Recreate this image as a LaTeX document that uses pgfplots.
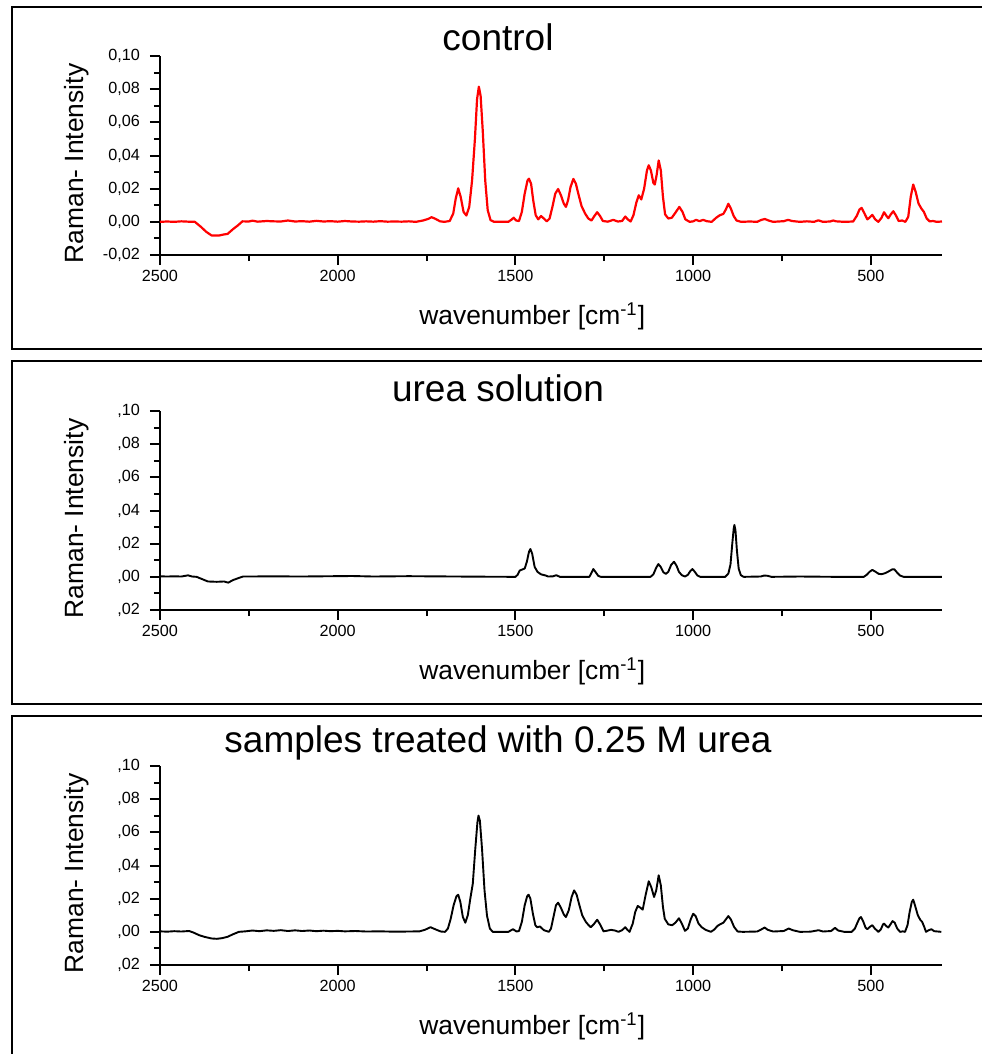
\documentclass[border=0pt]{standalone}
\usepackage{pgfplots}
\pgfplotsset{compat=1.18}
\usepackage{fontspec}
\setmainfont{Liberation Sans}

\pgfplotsset{
  raman/.style={
    scale only axis,
    width=391pt, height=99.5pt,
    anchor=south west,
    axis x line*=bottom, axis y line*=left,
    xmin=300, xmax=2500, x dir=reverse,
    ymin=-0.02, ymax=0.10,
    xtick={500,1000,1500,2000,2500},
    xticklabels={500,1000,1500,2000,2500},
    minor xtick={750,1250,1750,2250},
    ytick={-0.02,0,0.02,0.04,0.06,0.08,0.10},
    minor ytick={-0.01,0.01,0.03,0.05,0.07,0.09},
    tick align=outside,
    major tick length=5pt, minor tick length=3pt,
    axis line style={line width=1pt, black},
    every tick/.style={line width=1pt, black},
    tick label style={font=\fontsize{8.1}{9}\selectfont, black},
    yticklabel style={xshift=-1.5pt},
    xticklabel style={yshift=1pt},
    xlabel={wavenumber [cm\textsuperscript{-1}]},
    ylabel={Raman- Intensity},
    label style={font=\fontsize{13.2}{15}\selectfont},
    xlabel style={at={(axis description cs:0.476,-0.307)}, anchor=center},
    ylabel style={at={(axis description cs:-0.107,0.46)}, anchor=center, rotate=0},
    clip=false,
  }
}

\begin{document}
\begin{tikzpicture}[x=0.5pt,y=-0.5pt]
\useasboundingbox (0,0) rectangle (981,1054);
\draw[line width=1pt] (12,7) rectangle (1010,349);
\draw[line width=0.8pt] (12,361) rectangle (1010,704);
\draw[line width=0.8pt] (12,716) rectangle (1010,1080);

\node[font=\fontsize{18.5}{22}\selectfont, anchor=center] at (498,37) {control};
\node[font=\fontsize{18.5}{22}\selectfont, anchor=center] at (498,388) {urea solution};
\node[font=\fontsize{18.5}{22}\selectfont, anchor=center] at (498,743) {samples treated with 0.25 M urea};

% ---------- panel 1: control ----------
\begin{axis}[raman, at={(80pt,-127.5pt)}, height=99.5pt,
  yticklabels={{-0,02},{0,00},{0,02},{0,04},{0,06},{0,08},{0,10}}]
\addplot[red, line width=1.1pt, line join=round] coordinates {
(2500,0) (2480,0.0002) (2460,0) (2440,0.0003) (2420,0.0001) (2402,0)
(2385,-0.003) (2370,-0.006) (2355,-0.0082) (2335,-0.0083) (2320,-0.0076)
(2310,-0.0073) (2295,-0.0045) (2280,-0.002) (2268,0.0003) (2250,0.0002)
(2240,0.0007) (2225,0.0001) (2200,0.0005) (2180,0.0003) (2160,0.0002)
(2140,0.0008) (2120,0.0002) (2100,0.0004) (2080,0.0001) (2060,0.0006)
(2040,0.0002) (2020,0.0004) (2000,0.0001) (1980,0.0005) (1960,0.0002)
(1940,0.0001) (1920,0.0003) (1900,0.0001) (1880,0.0004) (1860,0.0001)
(1840,0.0002) (1820,0.0001) (1800,0.0003) (1780,0) (1760,0.0008)
(1745,0.0018) (1736,0.0028) (1725,0.0018) (1712,0.0003) (1700,0)
(1685,0.0005) (1675,0.005) (1668,0.014) (1661,0.0202) (1654,0.015)
(1646,0.006) (1638,0.0038) (1630,0.009) (1622,0.025) (1614,0.05)
(1608,0.074) (1603,0.0815) (1598,0.076) (1592,0.055) (1585,0.025)
(1578,0.007) (1570,0.001) (1560,0) (1520,0) (1510,0.0015) (1505,0.0025)
(1498,0.0008) (1490,0.0005) (1482,0.006) (1474,0.017) (1466,0.025)
(1462,0.026) (1456,0.023) (1450,0.013) (1443,0.004) (1436,0.0015)
(1428,0.0035) (1420,0.002) (1412,0.0003) (1404,0.002) (1396,0.009)
(1388,0.017) (1380,0.0198) (1372,0.016) (1364,0.011) (1358,0.009)
(1352,0.013) (1345,0.021) (1337,0.0259) (1330,0.023) (1322,0.016)
(1314,0.0095) (1304,0.005) (1295,0.002) (1286,0.0008) (1278,0.0035)
(1270,0.0058) (1262,0.0035) (1254,0.0005) (1240,0.0001) (1225,0.0012)
(1212,0.0002) (1200,0.0005) (1191,0.0032) (1184,0.0015) (1176,0.0002)
(1168,0.004) (1160,0.0115) (1153,0.016) (1146,0.0135) (1138,0.02)
(1130,0.031) (1125,0.0341) (1119,0.031) (1112,0.0235) (1108,0.0225)
(1103,0.028) (1097,0.037) (1091,0.031) (1085,0.015) (1079,0.0045)
(1070,0.002) (1060,0.0025) (1050,0.0055) (1039,0.009) (1030,0.006)
(1022,0.0015) (1010,0) (1000,0.0003) (992,0.0012) (982,0.0004)
(972,0.0012) (962,0.0004) (948,0) (935,0.0025) (925,0.004) (915,0.0048)
(908,0.0075) (901,0.0109) (894,0.008) (886,0.0035) (878,0.0008) (865,0)
(840,0.0002) (820,0) (808,0.0012) (798,0.0017) (788,0.0008) (775,0)
(745,0.0004) (733,0.0012) (722,0.0005) (700,0) (680,0.0003) (660,0)
(648,0.0009) (635,0) (615,0.0002) (606,0.0008) (598,0.0003) (575,0)
(550,0.0002) (540,0.0035) (532,0.0075) (526,0.0084) (518,0.005)
(510,0.0015) (504,0.0025) (496,0.0042) (488,0.0015) (479,0) (470,0.0025)
(463,0.0058) (456,0.0035) (451,0.0022) (444,0.0045) (437,0.0064)
(430,0.004) (422,0.0005) (412,0.0008) (403,0) (395,0.003) (388,0.015)
(381,0.0225) (374,0.018) (366,0.011) (358,0.008) (351,0.006) (343,0.002)
(335,0.0003) (325,0.0005) (315,0) (300,0.0002)
};
\end{axis}

% ---------- panel 2: urea solution ----------
\begin{axis}[raman, at={(80pt,-305pt)},
  yticklabels={{,02},{,00},{,02},{,04},{,06},{,08},{,10}}]
\addplot[black, line width=0.95pt, line join=round] coordinates {
(2500,0.0003) (2480,0.0002) (2460,0.0003) (2440,0.0002) (2421,0.0009)
(2410,0.0002) (2397,0) (2380,-0.0015) (2365,-0.0028) (2340,-0.003)
(2320,-0.0028) (2308,-0.0035) (2295,-0.002) (2280,-0.0008) (2266,0.0002)
(2240,0.0002) (2200,0.0003) (2100,0.0002) (1960,0.0005) (1900,0.0002)
(1800,0.0004) (1740,0.0003) (1600,0.0001) (1500,0) (1494,0.0012)
(1488,0.0038) (1480,0.0045) (1474,0.005) (1468,0.009) (1462,0.015)
(1458,0.0168) (1453,0.014) (1446,0.006) (1438,0.003) (1428,0.0015)
(1415,0.0008) (1408,0.0002) (1395,0.0003) (1385,0.001) (1375,0)
(1292,0) (1286,0.0025) (1281,0.0047) (1275,0.003) (1267,0.0006)
(1260,0) (1120,0) (1112,0.0015) (1104,0.0055) (1098,0.0077)
(1092,0.0062) (1084,0.0028) (1077,0.0018) (1070,0.003) (1062,0.0072)
(1054,0.0091) (1047,0.0068) (1040,0.003) (1032,0.001) (1023,0.0002)
(1015,0.0012) (1008,0.0035) (1002,0.0047) (996,0.0032) (988,0.0008)
(980,0) (910,0) (901,0.002) (895,0.0075) (890,0.02) (886,0.029)
(884,0.0313) (881,0.028) (877,0.016) (872,0.005) (866,0.001) (858,0)
(810,0.0002) (800,0.0008) (790,0.0006) (780,0) (700,0.0002) (600,0)
(520,0) (512,0.0012) (504,0.003) (496,0.0042) (488,0.0032) (478,0.0018)
(470,0.0016) (460,0.0022) (450,0.0033) (440,0.0045) (434,0.0045)
(426,0.0025) (418,0.0008) (408,0) (300,0)
};
\end{axis}

% ---------- panel 3: treated ----------
\begin{axis}[raman, at={(80pt,-482.5pt)},
  yticklabels={{,02},{,00},{,02},{,04},{,06},{,08},{,10}}]
\addplot[black, line width=0.95pt, line join=round] coordinates {
(2500,0.0003) (2480,0.0001) (2460,0.0004) (2440,0.0002) (2418,0.0005)
(2405,-0.0005) (2390,-0.002) (2375,-0.003) (2355,-0.004) (2340,-0.0042)
(2325,-0.0038) (2310,-0.003) (2295,-0.0015) (2278,0) (2260,0.0003)
(2240,0.0008) (2220,0.0004) (2200,0.0009) (2180,0.0006) (2160,0.001)
(2140,0.0005) (2120,0.0009) (2100,0.0005) (2080,0.0008) (2060,0.0004)
(2040,0.0007) (2020,0.0004) (2000,0.0006) (1980,0.0003) (1950,0.0005)
(1920,0.0002) (1880,0.0003) (1840,0.0001) (1800,0.0002) (1770,0.0003)
(1755,0.0012) (1739,0.0028) (1725,0.0015) (1710,0.0002) (1698,0)
(1690,0.002) (1682,0.008) (1674,0.016) (1666,0.0215) (1661,0.0224)
(1655,0.018) (1648,0.009) (1641,0.0055) (1634,0.01) (1627,0.02)
(1620,0.029) (1613,0.05) (1607,0.066) (1604,0.0701) (1600,0.067)
(1594,0.05) (1587,0.025) (1580,0.0097) (1572,0.002) (1564,0) (1520,0)
(1507,0.0016) (1497,0.0002) (1490,0.0005) (1482,0.006) (1474,0.016)
(1467,0.0215) (1463,0.0224) (1458,0.02) (1451,0.011) (1444,0.004)
(1439,0.0028) (1431,0.0032) (1420,0.001) (1406,0) (1400,0.002)
(1393,0.009) (1386,0.016) (1380,0.0176) (1372,0.0145) (1364,0.0105)
(1358,0.0089) (1350,0.013) (1342,0.021) (1335,0.025) (1328,0.0225)
(1320,0.016) (1312,0.0099) (1302,0.006) (1294,0.004) (1288,0.0028)
(1280,0.0045) (1270,0.0073) (1262,0.0045) (1252,0.0003) (1240,0.0008)
(1231,0.0012) (1220,0.0008) (1210,0) (1200,0.001) (1191,0.0028)
(1185,0.0012) (1179,0) (1170,0.005) (1163,0.012) (1156,0.0156)
(1150,0.0148) (1142,0.0134) (1134,0.022) (1125,0.0305) (1118,0.027)
(1110,0.021) (1104,0.025) (1097,0.0341) (1091,0.028) (1085,0.015)
(1080,0.0079) (1070,0.0045) (1059,0.004) (1050,0.0055) (1040,0.0082)
(1032,0.005) (1023,0.0006) (1015,0.002) (1007,0.0075) (1000,0.0109)
(993,0.0095) (985,0.005) (976,0.0028) (965,0.0012) (950,0) (940,0.0015)
(932,0.0035) (924,0.0046) (915,0.0055) (908,0.0075) (901,0.0095)
(894,0.0075) (885,0.003) (875,0.0002) (860,0) (820,0.0002) (808,0.0015)
(799,0.0026) (790,0.0012) (775,0.0002) (745,0.0005) (731,0.002)
(720,0.001) (700,0) (670,0.0001) (647,0.001) (635,0.0002) (612,0.0005)
(601,0.0024) (592,0.0008) (575,0) (554,0) (545,0.002) (538,0.0055)
(532,0.0083) (528,0.0089) (522,0.0065) (515,0.0025) (510,0.0016)
(503,0.003) (496,0.004) (489,0.002) (479,0) (472,0.0015) (466,0.0045)
(463,0.005) (457,0.0035) (451,0.0026) (445,0.0045) (439,0.0065)
(433,0.0055) (426,0.002) (418,0) (410,0.0003) (404,0) (397,0.004)
(391,0.012) (385,0.018) (381,0.0194) (376,0.016) (368,0.01) (361,0.0072)
(356,0.0061) (350,0.003) (345,0) (339,0.0008) (330,0.0016) (322,0.0004)
(312,0.0002) (302,0)
};
\end{axis}
\end{tikzpicture}
\end{document}
